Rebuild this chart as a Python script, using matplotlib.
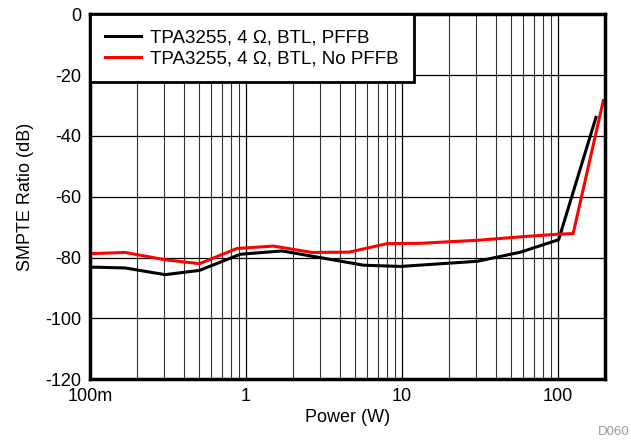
import numpy as np
import matplotlib
matplotlib.use('Agg')
import matplotlib.pyplot as plt
from matplotlib.ticker import LogLocator, NullFormatter

plt.rcParams['font.family'] = ['Liberation Sans', 'DejaVu Sans']
plt.rcParams['axes.unicode_minus'] = False

# black: PFFB
pffb_w = [0.1, 0.168, 0.303, 0.503, 0.918, 1.70, 5.69, 9.8, 30.4, 57.6, 100.9, 175]
pffb_db = [-83.1, -83.4, -85.6, -84.2, -78.9, -77.8, -82.5, -82.9, -81.2, -78.2, -74.1, -33.9]

# red: no PFFB
nopffb_w = [0.1, 0.168, 0.303, 0.503, 0.875, 1.50, 2.65, 4.57, 8.04, 13.0, 30.4, 60.0, 100.0, 125, 195]
nopffb_db = [-78.7, -78.3, -80.7, -82.0, -77.0, -76.2, -78.3, -78.2, -75.4, -75.3, -74.3, -73.1, -72.3, -72.1, -28.4]

labels = ['TPA3255, 4 Ω, BTL, PFFB', 'TPA3255, 4 Ω, BTL, No PFFB']
yticks = [0, -20, -40, -60, -80, -100, -120]
xticks = [0.1, 1, 10, 100]
xticklabels = ['100m', '1', '10', '100']

fig = plt.figure(figsize=(6.31, 4.40), dpi=100)
ax = fig.add_axes([0.1426, 0.138, 0.8162, 0.8295])

ax.plot(pffb_w, pffb_db, color='black', lw=2.2, label=labels[0])
ax.plot(nopffb_w, nopffb_db, color='red', lw=2.2, label=labels[1])

ax.set_xscale('log')
ax.set_xlim(0.1, 200)
ax.set_ylim(-120, 0)
ax.set_xticks(xticks)
ax.set_xticklabels(xticklabels)
ax.xaxis.set_minor_locator(LogLocator(base=10, subs=np.arange(2, 10)))
ax.xaxis.set_minor_formatter(NullFormatter())
ax.set_yticks(yticks)

ax.grid(True, which='major', color='black', lw=0.9)
ax.grid(True, which='minor', axis='x', color='#333333', lw=0.8)
ax.tick_params(which='both', length=0, labelsize=13, pad=6)
for s in ax.spines.values():
    s.set_linewidth(2.5)

ax.set_xlabel('Power (W)', fontsize=13, labelpad=3)
ax.set_ylabel('SMPTE Ratio (dB)', fontsize=13, labelpad=8)

leg = ax.legend(loc='upper left', fontsize=13.5, frameon=True, fancybox=False,
                borderaxespad=0, handlelength=1.9, labelspacing=0.2,
                borderpad=0.8, handletextpad=0.5)
leg.get_frame().set_edgecolor('black')
leg.get_frame().set_linewidth(2.0)
leg.get_frame().set_alpha(1)

fig.text(0.998, 0.019, 'D060', color='#999999', fontsize=9.5, ha='right', va='center')

fig.savefig('out.png', dpi=100)
